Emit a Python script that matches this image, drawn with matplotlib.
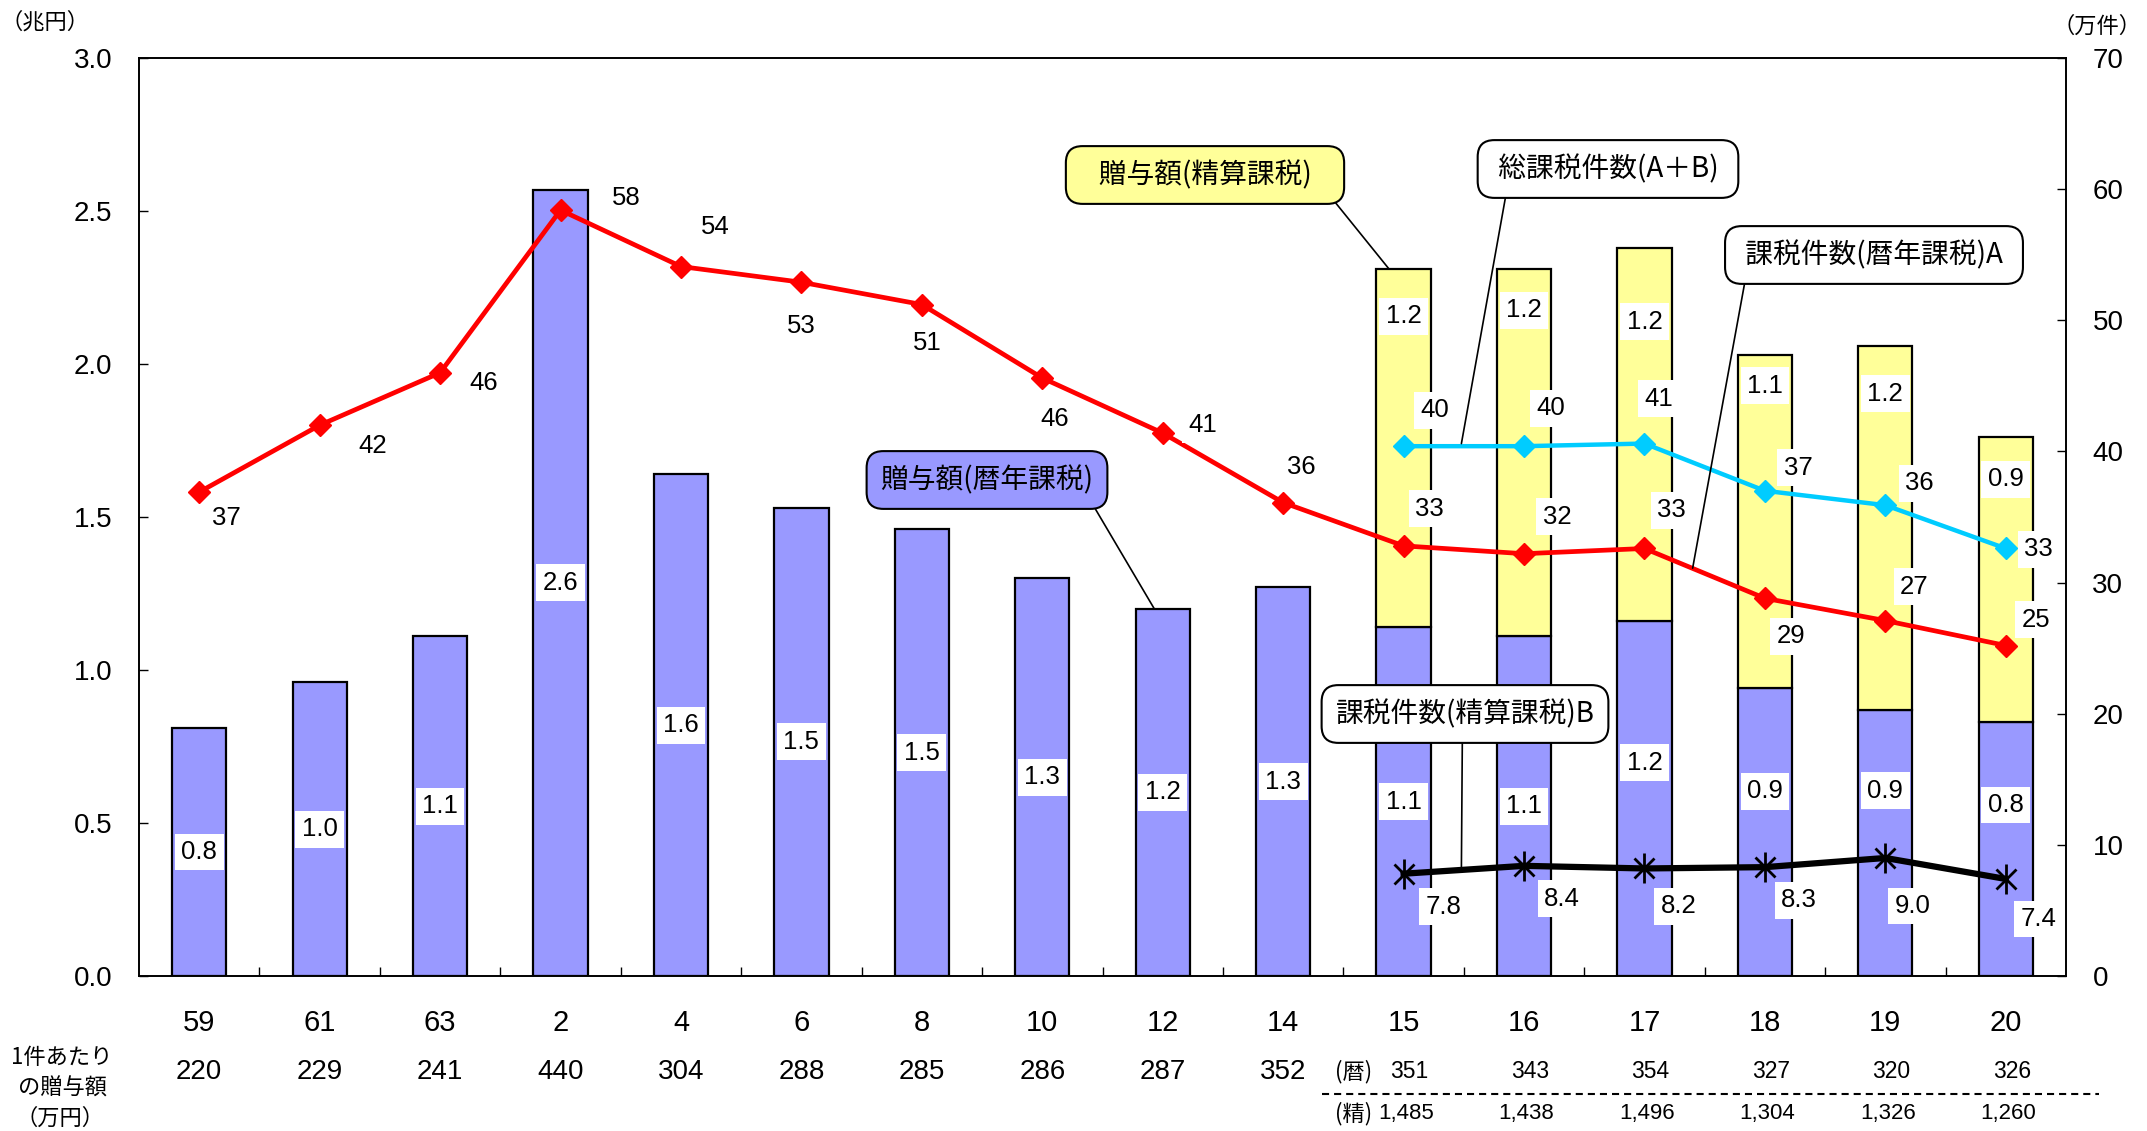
import numpy as np
import matplotlib
matplotlib.use("Agg")
import matplotlib.pyplot as plt
import matplotlib.transforms as mtransforms
from matplotlib import font_manager
from matplotlib.lines import Line2D

# ---- data ----
years = ["59", "61", "63", "2", "4", "6", "8", "10", "12", "14",
         "15", "16", "17", "18", "19", "20"]
gift_rekinen = [0.81, 0.96, 1.11, 2.57, 1.64, 1.53, 1.46, 1.30, 1.20, 1.27,
                1.14, 1.11, 1.16, 0.94, 0.87, 0.83]          # 兆円
gift_seisan = [1.17, 1.20, 1.22, 1.09, 1.19, 0.93]              # 兆円 (15-20)
count_rekinen = [36.9, 42.0, 46.0, 58.4, 54.1, 52.9, 51.2, 45.6, 41.4, 36.1,
                 32.8, 32.2, 32.6, 28.8, 27.1, 25.2]            # 万件
count_seisan = [7.8, 8.4, 8.2, 8.3, 9.0, 7.4]                  # 万件 (15-20)
count_total = [40.4, 40.4, 40.6, 37.0, 35.9, 32.6]             # 万件 (15-20)
per_case = [220, 229, 241, 440, 304, 288, 285, 286, 287, 352]  # 万円
per_case_rekinen = [351, 343, 354, 327, 320, 326]
per_case_seisan = [1485, 1438, 1496, 1304, 1326, 1260]

# label offsets (pixels)
red_off = [(27, -26), (53, -21), (44, -10), (66, 12), (34, 40), (0, -44),
           (5, -38), (12, -41), (40, 8), (18, 36), (26, 37), (33, 37),
           (27, 38), (26, -38), (29, 34), (30, 26)]
cyan_off = [(31, 36), (27, 38), (14, 45), (33, 23), (34, 22), (33, -1)]
black_off = [(40, -33), (38, -33), (34, -38), (34, -33), (27, -48), (33, -40)]
rekinen_dy = [0] * 12 + [36, 41, 52, 44]
seisan_dy = [-47, -41, -74, -31, -48, -42]

installed = {f.name for f in font_manager.fontManager.ttflist}
NUM = "Liberation Sans"
NARROW = "Liberation Sans Narrow" if "Liberation Sans Narrow" in installed else "Liberation Sans"
JP = "Noto Sans CJK JP"
plt.rcParams["font.family"] = [NUM, JP]

BLUE = "#9999FF"
YELLOW = "#FFFF99"
CYAN = "#00CCFF"

W, H = 2147, 1131
fig = plt.figure(figsize=(W / 100, H / 100), dpi=100)
ax = fig.add_axes([139 / W, 1 - 976 / H, (2066 - 139) / W, (976 - 58) / H])
ax2 = ax.twinx()

x = np.arange(len(years))
n_old = len(years) - len(gift_seisan)
x_new = x[n_old:]
reki = np.array(gift_rekinen)

ax.bar(x, reki, width=0.45, color=BLUE, edgecolor="black", linewidth=1.6, zorder=2)
ax.bar(x_new, gift_seisan, bottom=reki[n_old:], width=0.45, color=YELLOW,
       edgecolor="black", linewidth=1.6, zorder=2)

box = dict(boxstyle="square,pad=0.25", fc="white", ec="none")
for i, v in enumerate(reki):
    ax.annotate(f"{v:.1f}", (x[i], v / 2), xytext=(0, rekinen_dy[i]),
                textcoords="offset pixels", ha="center", va="center",
                fontsize=18.5, bbox=box, zorder=4)
for j, v in enumerate(gift_seisan):
    ax.annotate(f"{v:.1f}", (x_new[j], reki[n_old + j] + v), xytext=(0, seisan_dy[j]),
                textcoords="offset pixels", ha="center", va="center",
                fontsize=18.5, bbox=box, zorder=4)

ax2.plot(x, count_rekinen, color="red", lw=3.4, marker="D", ms=11, zorder=3)
ax2.plot(x_new, count_total, color=CYAN, lw=3.2, marker="D", ms=11, zorder=3)
ax2.plot(x_new, count_seisan, color="black", lw=4.5, marker="x", ms=15, mew=2, zorder=3)
ax2.plot(x_new, count_seisan, ls="none", color="black", marker="|", ms=22, mew=2, zorder=3)

for i, v in enumerate(count_rekinen):
    ax2.annotate(f"{v:.0f}", (x[i], v), xytext=red_off[i], textcoords="offset pixels",
                 ha="center", va="center", fontsize=18.5, bbox=box, zorder=5)
for j, v in enumerate(count_total):
    ax2.annotate(f"{v:.0f}", (x_new[j], v), xytext=cyan_off[j], textcoords="offset pixels",
                 ha="center", va="center", fontsize=18.5, bbox=box, zorder=5)
for j, v in enumerate(count_seisan):
    ax2.annotate(f"{v:.1f}", (x_new[j], v), xytext=black_off[j], textcoords="offset pixels",
                 ha="center", va="center", fontsize=18.5, bbox=box, zorder=5)

# axes and ticks
ax.set_xlim(-0.5, len(years) - 0.5)
ax.set_ylim(0, 3.0)
ax2.set_ylim(0, 70)
ax.set_yticks(np.arange(0, 3.01, 0.5))
ax.yaxis.set_major_formatter("{x:.1f}")
ax2.set_yticks(range(0, 71, 10))
ax.tick_params(axis="y", direction="in", length=6.5, width=1, labelsize=20, pad=19)
ax2.tick_params(axis="y", direction="in", length=6.5, width=1, labelsize=20, pad=19)
ax.set_xticks(x, years)
ax.set_xticks(np.arange(0.5, len(years) - 1, 1), minor=True)
ax.tick_params(axis="x", which="major", length=0, pad=24, labelsize=21)
ax.tick_params(axis="x", which="minor", direction="in", length=6.5, width=1)
for lab in ax.get_xticklabels():
    lab.set_fontfamily(NARROW)
for a in (ax, ax2):
    for s in a.spines.values():
        s.set_linewidth(1.2)

# rows below the axis
trans = mtransforms.blended_transform_factory(ax.transData, fig.transFigure)
def fy(py):
    return 1 - py / H

for i in range(n_old):
    ax.text(x[i], fy(1072), str(per_case[i]), transform=trans, ha="center", va="center",
            fontsize=20, family=NARROW)
for j, xi in enumerate(x_new):
    ax.text(xi + 0.05, fy(1072), f"{per_case_rekinen[j]:,}", transform=trans, ha="center",
            va="center", fontsize=16.5, family=NARROW)
    ax.text(xi + 0.02, fy(1114), f"{per_case_seisan[j]:,}", transform=trans, ha="center",
            va="center", fontsize=16, family=NARROW)
ax.text(9.74, fy(1072), "(暦)", transform=trans, ha="right", va="center", fontsize=16, family=[JP])
ax.text(9.74, fy(1114), "(精)", transform=trans, ha="right", va="center", fontsize=16, family=[JP])
fig.add_artist(Line2D([9.32, 15.77], [fy(1094)] * 2, transform=trans, color="black",
                      lw=1.5, linestyle=(0, (3.4, 2.4))))

fig.text(62 / W, fy(1058), "1件あたり", ha="center", va="center", fontsize=16, family=[JP, NUM])
fig.text(62 / W, fy(1088), "の贈与額", ha="center", va="center", fontsize=16, family=[JP])
fig.text(60 / W, fy(1118), "（万円）", ha="center", va="center", fontsize=16, family=[JP])
fig.text(45 / W, fy(22), "（兆円）", ha="center", va="center", fontsize=16, family=[JP])
fig.text(2097 / W, fy(26), "（万件）", ha="center", va="center", fontsize=16, family=[JP])

# callouts
def callout(text, xy, xycoords, center, relpos, fc):
    ax2.annotate(text, xy=xy, xycoords=xycoords, xytext=(center[0], H - center[1]),
                 textcoords="figure pixels", ha="center", va="center", fontsize=20,
                 family=[JP, NUM],
                 bbox=dict(boxstyle="round,pad=0.5,rounding_size=0.6", fc=fc, ec="black", lw=1.5),
                 arrowprops=dict(arrowstyle="-", color="black", lw=1.2, shrinkA=0, shrinkB=0,
                                 relpos=relpos),
                 zorder=6, annotation_clip=False)

callout("   贈与額(精算課税)   ", (9.88, 2.31), ax.transData, (1205, 175), (0.98, 0), YELLOW)
callout(" 総課税件数(A＋B) ", (10.48, 40.6), ax2.transData, (1608, 169), (0.07, 0), "white")
callout(" 課税件数(暦年課税)A ", (12.40, 31.1), ax2.transData, (1874, 255), (0.03, 0), "white")
callout("贈与額(暦年課税)", (7.93, 1.20), ax.transData, (987, 480), (0.97, 0), BLUE)
callout("課税件数(精算課税)B", (10.48, 8.3), ax2.transData, (1465, 714), (0.49, 0), "white")

fig.savefig("out.png", dpi=100)
